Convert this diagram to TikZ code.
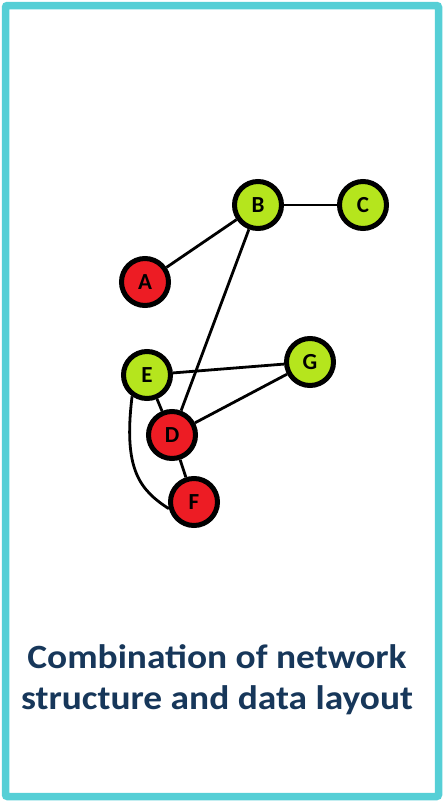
\documentclass[tikz,border=0pt]{standalone}
\usepackage{fontspec}
\setmainfont{Carlito}
\newfontfamily\titlefont[FakeStretch=1.1]{Carlito}
\definecolor{frame}{HTML}{56CFD6}
\definecolor{leaf}{HTML}{B5E51D}
\definecolor{hot}{HTML}{ED1C24}
\definecolor{navy}{HTML}{17375A}

\begin{document}
\begin{tikzpicture}[x=1pt,y=-1pt,
  vertex/.style={circle,draw=black,line width=5pt,minimum size=47pt,inner sep=0pt,
    font=\fontsize{23}{23}\selectfont\bfseries},
  green vertex/.style={vertex,fill=leaf},
  red vertex/.style={vertex,fill=hot},
  edge/.style={line width=2.8pt,black}]
  \useasboundingbox (0,0) rectangle (443,801);
  \draw[frame,line width=7.5pt,rounded corners=2pt] (5.5,5.5) rectangle (438.5,796.5);
  % vertices
  \node[green vertex] (B) at (258,205) {B};
  \node[green vertex] (C) at (363,205) {C};
  \node[red vertex]   (A) at (145,282) {A};
  \node[green vertex] (E) at (147,375) {E};
  \node[green vertex] (G) at (310,362) {G};
  \node[red vertex]   (D) at (172,435) {D};
  \node[red vertex]   (F) at (194,502) {F};
  % links
  \draw[edge] (A) -- (B);
  \draw[edge] (B) -- (C);
  \draw[edge] (B) -- (D);
  \draw[edge] (E) -- (G);
  \draw[edge] (D) -- (G);
  \draw[edge] (E) -- (D);
  \draw[edge] (D) -- (F);
  \draw[edge] (E.235) .. controls (123,470) and (140,490) .. (F.195);
  % caption
  \node[navy,align=center,font=\titlefont\fontsize{34}{41}\selectfont\bfseries] (title) at (217,680)
    {Combination of network\\structure and data layout};
\end{tikzpicture}
\end{document}
